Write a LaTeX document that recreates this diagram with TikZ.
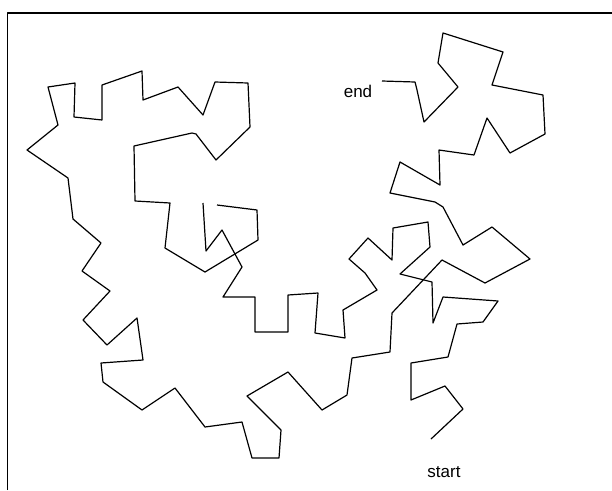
\documentclass[tikz,border=0pt]{standalone}
\usepackage{fontspec}
\setmainfont{Liberation Sans}
\begin{document}
\begin{tikzpicture}[x=1pt,y=-1pt,line join=round,
  walk/.style={line width=1.2pt,black},
  frameline/.style={line width=1.3pt,black},
  lbl/.style={font=\fontsize{17}{20}\selectfont,inner sep=0pt,anchor=base}]
\useasboundingbox (0,0) rectangle (612,490);
\draw[frameline] (7.5,490) -- (7.5,13) -- (612,13);
% walk, from start
\draw[walk] (431,439) -- (463,409) -- (445,386) -- (411,400) -- (411,363)
  -- (448,357) -- (457,324) -- (483,322) -- (498,301) -- (443,297)
  -- (433,323) -- (432,282) -- (400,274) -- (430,247) -- (428,222)
  -- (393,228) -- (392,260) -- (368,238) -- (349,259) -- (365,273)
  -- (377,290) -- (343,310) -- (345,338) -- (315,333) -- (318,293)
  -- (288,295) -- (288,332) -- (255,332) -- (255,297) -- (223,297)
  -- (242,267) -- (222,230) -- (206,251) -- (203,203);
\draw[walk] (217,205) -- (257,210) -- (258,240) -- (205,272) -- (165,248)
  -- (170,203) -- (135,201) -- (134,146) -- (192,133) -- (196,134)
  -- (216,160) -- (250,127) -- (248,83) -- (215,82) -- (203,115)
  -- (178,87) -- (143,100) -- (142,71) -- (102,85) -- (102,120)
  -- (74,117) -- (75,83) -- (48,87) -- (58,125) -- (27,150)
  -- (68,178) -- (73,219) -- (101,243) -- (82,271) -- (110,291)
  -- (83,320) -- (107,345) -- (137,318) -- (143,360) -- (101,363)
  -- (103,382) -- (142,410) -- (175,388) -- (205,427) -- (242,422)
  -- (252,458) -- (279,458) -- (281,430) -- (247,396) -- (288,372)
  -- (322,410) -- (347,395) -- (352,358) -- (390,352) -- (392,313)
  -- (442,260) -- (485,283) -- (530,259) -- (492,227) -- (463,245)
  -- (443,207) -- (435,202) -- (390,193) -- (400,162) -- (440,185)
  -- (439,150) -- (474,155) -- (487,118) -- (510,153) -- (545,134)
  -- (543,95) -- (492,85) -- (503,52) -- (443,33) -- (438,63)
  -- (458,87) -- (424,122) -- (417,90) -- (415,82) -- (382,81);
\node[lbl] (endlbl) at (358,97) {end};
\node[lbl] (startlbl) at (444,477) {start};
\end{tikzpicture}
\end{document}
